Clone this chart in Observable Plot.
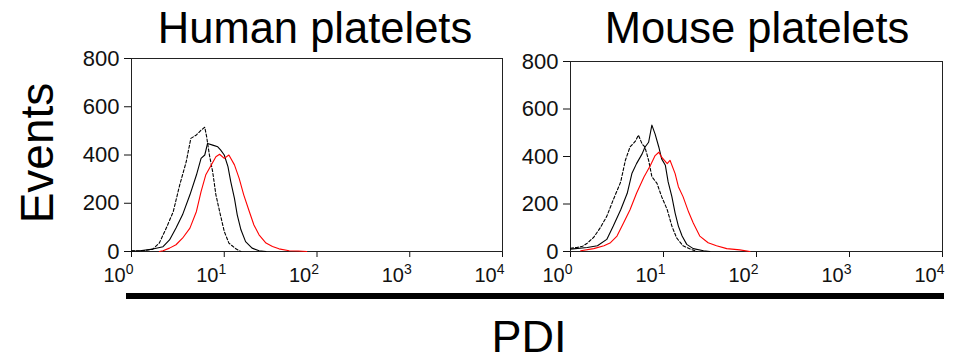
<!DOCTYPE html>
<html>
<head>
<meta charset="utf-8">
<script src="https://cdn.jsdelivr.net/npm/d3@7"></script>
<script src="https://cdn.jsdelivr.net/npm/@observablehq/plot@0.6"></script>
<style>
  html, body { margin: 0; padding: 0; background: #fff; }
  #wrap { position: relative; width: 953px; height: 362px; overflow: hidden; background: #fff; }
  .panel { position: absolute; top: 40px; }
  #left { left: 70px; }
  #right { left: 510px; }
  #overlay { position: absolute; left: 0; top: 0; pointer-events: none; }
  #rule { position: absolute; left: 126px; top: 293px; width: 818px; height: 6px; background: #000; }
</style>
</head>
<body>
<div id="wrap">
  <div id="left" class="panel"></div>
  <div id="right" class="panel"></div>
  <div id="rule"></div>
  <svg id="overlay" width="953" height="362" font-family="'Liberation Sans', Arial, sans-serif">
    <text id="t1" x="315" y="43" font-size="43.5" text-anchor="middle" fill="#000"></text>
    <text id="t2" x="757" y="43" font-size="43.5" text-anchor="middle" fill="#000"></text>
    <text id="ylab" transform="translate(53,153) rotate(-90)" font-size="46" text-anchor="middle" fill="#000"></text>
    <text id="xlab" x="529" y="352" font-size="45" text-anchor="middle" fill="#000"></text>
  </svg>
</div>
<script>
// ---- text ----
const panelTitles = ["Human platelets", "Mouse platelets"];
const yAxisTitle = "Events";
const xAxisTitle = "PDI";

// ---- axis ticks ----
const xTicks = [1, 10, 100, 1000, 10000];
const yTicks = [0, 200, 400, 600, 800];

// ---- series: [log10(PDI), events] ----
const humanDashed = [[0,3],[0.09,3],[0.16,5],[0.23,10],[0.30,35],[0.375,97],[0.45,165],[0.52,276],[0.59,372],[0.64,469],[0.70,483],[0.75,503],[0.79,515],[0.81,476],[0.84,400],[0.875,331],[0.91,235],[0.95,166],[1.0,83],[1.05,35],[1.125,11],[1.18,0]];
const humanBlack = [[0,2],[0.09,3],[0.23,10],[0.34,20],[0.41,48],[0.48,97],[0.55,152],[0.63,235],[0.70,317],[0.75,386],[0.79,400],[0.82,448],[0.875,441],[0.93,434],[0.96,421],[1.0,400],[1.04,352],[1.07,290],[1.11,220],[1.14,152],[1.18,90],[1.23,41],[1.30,14],[1.375,3],[1.45,0]];
const humanRed = [[0.30,0],[0.34,3],[0.41,14],[0.48,28],[0.55,55],[0.63,97],[0.70,166],[0.75,248],[0.80,317],[0.86,359],[0.91,393],[0.95,403],[1.0,386],[1.05,400],[1.11,359],[1.16,304],[1.21,235],[1.27,166],[1.32,110],[1.375,69],[1.45,35],[1.52,21],[1.59,11],[1.70,3],[1.80,2],[1.89,0]];

const mouseDashed = [[0,14],[0.07,17],[0.13,22],[0.18,35],[0.25,60],[0.32,100],[0.39,148],[0.46,218],[0.54,293],[0.59,384],[0.64,440],[0.70,466],[0.73,490],[0.77,453],[0.80,440],[0.84,384],[0.875,315],[0.93,287],[0.98,231],[1.04,176],[1.09,107],[1.14,58],[1.21,24],[1.29,10],[1.36,0]];
const mouseBlack = [[0,10],[0.18,17],[0.29,24],[0.39,51],[0.46,107],[0.54,176],[0.61,245],[0.66,328],[0.71,370],[0.77,411],[0.80,439],[0.84,460],[0.875,532],[0.91,494],[0.95,439],[0.98,390],[1.02,363],[1.05,293],[1.09,231],[1.125,162],[1.16,107],[1.20,65],[1.25,30],[1.32,12],[1.43,3],[1.5,0]];
const mouseRed = [[0.11,3],[0.25,12],[0.36,24],[0.43,37],[0.5,65],[0.57,120],[0.64,176],[0.71,245],[0.79,314],[0.86,363],[0.91,404],[0.95,418],[0.98,397],[1.04,370],[1.07,384],[1.125,328],[1.16,273],[1.21,231],[1.27,166],[1.32,120],[1.39,65],[1.48,37],[1.57,24],[1.68,12],[1.82,7],[1.93,0]];

const toRows = arr => arr.map(([lg, ev]) => ({pdi: 10 ** lg, events: ev}));
const supDigits = ["0","1","2","3","4"];

function panel(series, marginTop, marginLeft) {
  const svg = Plot.plot({
    width: 440, height: 250,
    marginTop, marginBottom: 39, marginLeft, marginRight: 8,
    style: {fontFamily: "'Liberation Sans', Arial, sans-serif", fontSize: "22px", color: "#111", background: "transparent", overflow: "visible"},
    x: {type: "log", domain: [1, 10000], ticks: xTicks, tickSize: 6, tickPadding: 10, label: null,
        tickFormat: d => "10^" + Math.round(Math.log10(d))},
    y: {domain: [0, 800], ticks: yTicks, tickSize: 7, tickPadding: 5, label: null},
    marks: [
      Plot.frame({stroke: "#222"}),
      Plot.line(toRows(series.dashed), {x: "pdi", y: "events", stroke: "#000", strokeWidth: 1.1, strokeDasharray: "3,2"}),
      Plot.line(toRows(series.black), {x: "pdi", y: "events", stroke: "#000", strokeWidth: 1.1}),
      Plot.line(toRows(series.red), {x: "pdi", y: "events", stroke: "#ff0000", strokeWidth: 1.1})
    ]
  });
  // turn "10^k" labels into 10 with superscript k
  d3.select(svg).selectAll("text").each(function () {
    const m = /^10\^(\d)$/.exec(this.textContent);
    if (!m) return;
    const t = d3.select(this);
    t.text(null).attr("text-anchor", "end").attr("dx", 2).style("font-size", "20px");
    t.append("tspan").text("10");
    t.append("tspan").attr("dy", -8).style("font-size", "14px").text(m[1]);
  });
  return svg;
}

document.getElementById("left").append(panel({dashed: humanDashed, black: humanBlack, red: humanRed}, 18, 61));
document.getElementById("right").append(panel({dashed: mouseDashed, black: mouseBlack, red: mouseRed}, 21, 60));

document.getElementById("t1").textContent = panelTitles[0];
document.getElementById("t2").textContent = panelTitles[1];
document.getElementById("ylab").textContent = yAxisTitle;
document.getElementById("xlab").textContent = xAxisTitle;
</script>
</body>
</html>
